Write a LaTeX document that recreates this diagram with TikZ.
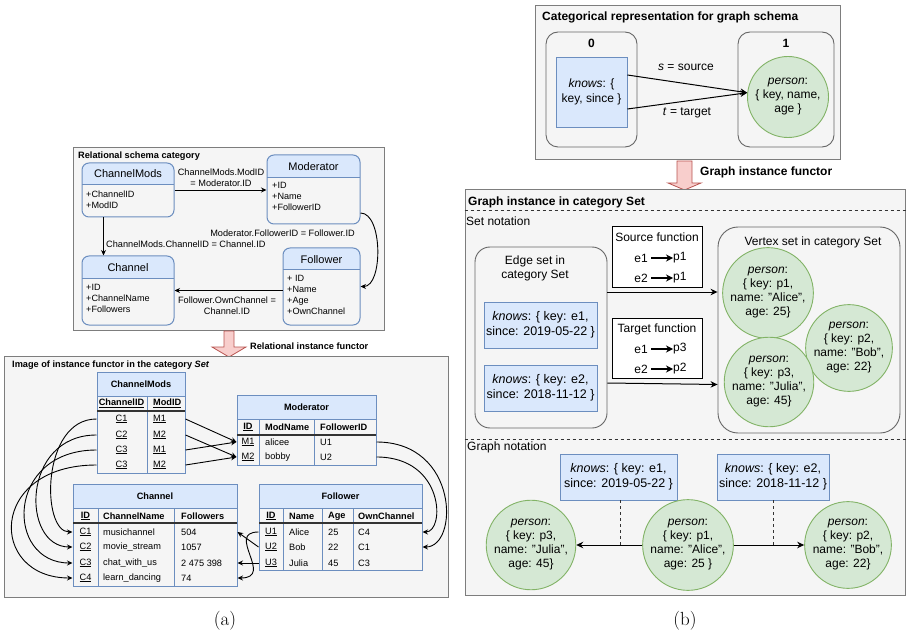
\documentclass[tikz,border=0pt]{standalone}
\usepackage{fontspec}
\setsansfont{Liberation Sans}
\usetikzlibrary{arrows.meta}

\definecolor{bluefill}{HTML}{DAE8FC}
\definecolor{bluedraw}{HTML}{6C8EBF}
\definecolor{greenfill}{HTML}{D5E8D4}
\definecolor{greendraw}{HTML}{82B366}
\definecolor{panelfill}{HTML}{F5F5F5}
\definecolor{paneldraw}{HTML}{666666}
\definecolor{redfill}{HTML}{F8CECC}
\definecolor{reddraw}{HTML}{B85450}

\tikzset{
  sm/.style={inner sep=0pt, align=center, font=\sffamily\fontsize{9.2}{10.8}\selectfont},
  smb/.style={inner sep=0pt, align=center, font=\sffamily\bfseries\fontsize{9.2}{10.8}\selectfont},
  enttitle/.style={inner sep=0pt, font=\sffamily\fontsize{11}{13}\selectfont},
  attrs/.style={inner sep=0pt, anchor=north west, align=left, font=\sffamily\fontsize{9.1}{10.8}\selectfont},
  md/.style={inner sep=0pt, align=center, font=\sffamily\fontsize{12}{14}\selectfont},
  mdb/.style={inner sep=0pt, align=center, font=\sffamily\bfseries\fontsize{12}{14}\selectfont},
  kn/.style={draw=bluedraw, fill=bluefill, line width=0.9pt, inner sep=0pt, align=center,
             font=\sffamily\fontsize{12.5}{14.5}\selectfont},
  pers/.style={circle, draw=greendraw, fill=greenfill, line width=0.9pt, inner sep=0pt, align=center,
               font=\sffamily\fontsize{12}{14}\selectfont},
  panel/.style={draw=paneldraw!85, fill=panelfill, line width=1pt, inner sep=0pt},
  grp/.style={draw=paneldraw, line width=0.9pt, inner sep=0pt},
  fnbox/.style={draw=black, fill=white, line width=1pt, inner sep=0pt},
  entity/.style={draw=bluedraw, line width=1pt, rounded corners=7pt, inner sep=0pt},
  tframe/.style={draw=bluedraw, line width=1pt, inner sep=0pt},
  tline/.style={draw=bluedraw, line width=1pt},
  keyline/.style={draw=black!80, line width=1.4pt},
  arr/.style={draw=black, line width=0.9pt, -{Stealth[length=5.5pt,width=5pt]}},
  bigarr/.style={draw=black, line width=1pt, -{Stealth[length=7pt,width=6.5pt]}},
  maparr/.style={draw=black, line width=1.2pt, -{Stealth[length=7pt,width=7pt]}},
  caption/.style={inner sep=0pt, font=\rmfamily\fontsize{19}{22}\selectfont},
  blockarrow/.style={draw=reddraw, fill=redfill, line width=0.8pt},
  dashsep/.style={draw=black!80, line width=0.8pt, dash pattern=on 3pt off 3pt},
}

\begin{document}
\begin{tikzpicture}[x=1pt, y=-1pt]
\useasboundingbox (0,0) rectangle (907,636);

% ---------------- relational schema category ----------------
\node[panel, minimum width=311pt, minimum height=182pt] (relpanel) at (228.5,239) {};
\node[smb, anchor=west] (reltitle) at (78,156) {Relational schema category};

% ChannelMods entity
\begin{scope}
  \clip[rounded corners=7pt] (82,163) rectangle (174,217);
  \fill[bluefill] (82,163) rectangle (174,185);
\end{scope}
\node[entity, minimum width=92pt, minimum height=54pt] (eCM) at (128,190) {};
\draw[tline] (82,185) -- (174,185);
\node[enttitle] (eCMt) at (128,174) {ChannelMods};
\node[attrs] (eCMa) at (86,191) {+ChannelID\\+ModID};

% Moderator entity
\begin{scope}
  \clip[rounded corners=7pt] (267,155) rectangle (360,224);
  \fill[bluefill] (267,155) rectangle (360,178);
\end{scope}
\node[entity, minimum width=93pt, minimum height=69pt] (eMo) at (313.5,189.5) {};
\draw[tline] (267,178) -- (360,178);
\node[enttitle] (eMot) at (313.5,167) {Moderator};
\node[attrs] (eMoa) at (272,182.5) {+ID\\+Name\\+FollowerID};

% Channel entity
\begin{scope}
  \clip[rounded corners=7pt] (82,256) rectangle (174,325);
  \fill[bluefill] (82,256) rectangle (174,278);
\end{scope}
\node[entity, minimum width=92pt, minimum height=69pt] (eCh) at (128,290.5) {};
\draw[tline] (82,278) -- (174,278);
\node[enttitle] (eCht) at (128,268) {Channel};
\node[attrs] (eCha) at (86,284.5) {+ID\\+ChannelName\\+Followers};

% Follower entity
\begin{scope}
  \clip[rounded corners=7pt] (283,248) rectangle (360,325);
  \fill[bluefill] (283,248) rectangle (360,270);
\end{scope}
\node[entity, minimum width=77pt, minimum height=77pt] (eFo) at (321.5,286.5) {};
\draw[tline] (283,270) -- (360,270);
\node[enttitle] (eFot) at (321.5,260) {Follower};
\node[attrs] (eFoa) at (287,275.5) {+ ID\\+Name\\+Age\\+OwnChannel};

% schema morphisms
\draw[arr] (eCM.east) -- (eCM.east -| eMo.west);
\node[sm] (l1) at (221,178) {ChannelMods.ModID\\= Moderator.ID};
\draw[arr] ([xshift=22pt]eCM.south west) -- ([xshift=22pt]eCh.north west);
\node[sm, anchor=west] (l2) at (106,244) {ChannelMods.ChannelID = Channel.ID};
\draw[arr] ([yshift=-23.5pt]eMo.east) .. controls (383,213) and (383,286.5) .. (eFo.east);
\node[sm] (l3) at (282.5,233) {Moderator.FollowerID = Follower.ID};
\draw[arr] (eFo.west |- eCh.east) -- (eCh.east);
\node[sm] (l4) at (227,306) {Follower.OwnChannel =\\Channel.ID};

% functor arrow (a)
\draw[blockarrow] (224,331) -- (224,347) -- (212,347) -- (229,357) -- (246,347) -- (234,347) -- (234,331) -- cycle;
\node[smb, anchor=west] (relfun) at (250,346) {Relational instance functor};

% ---------------- instance in Set (tables) ----------------
\node[panel, minimum width=444pt, minimum height=241pt] (setpanel) at (226,476.5) {};
\node[smb, anchor=west] (settitle) at (12,365) {Image of instance functor in the category \textit{Set}};

% ChannelMods table
\fill[bluefill] (97,372) rectangle (185,396);
\node[tframe, minimum width=88pt, minimum height=101pt] (tCM) at (141,422.5) {};
\draw[tline] (97,396) -- (185,396);
\draw[tline] (147,396) -- (147,473);
\draw[keyline] (97,411) -- (185,411);
\node[smb] (tCMt) at (141,384) {ChannelMods};
\node[smb] (tCMh1) at (121.5,403) {\underline{ChannelID}};
\node[smb, anchor=west] (tCMh2) at (153,403) {\underline{ModID}};
\node[sm] (cmA1) at (121.5,419) {\underline{C1}};
\node[sm] (cmA2) at (121.5,435) {\underline{C2}};
\node[sm] (cmA3) at (121.5,450) {\underline{C3}};
\node[sm] (cmA4) at (121.5,465) {\underline{C3}};
\node[sm, anchor=west] (cmB1) at (153,419) {\underline{M1}};
\node[sm, anchor=west] (cmB2) at (153,435) {\underline{M2}};
\node[sm, anchor=west] (cmB3) at (153,450) {\underline{M1}};
\node[sm, anchor=west] (cmB4) at (153,465) {\underline{M2}};

% Moderator table
\fill[bluefill] (237,395) rectangle (376,419);
\node[tframe, minimum width=139pt, minimum height=70pt] (tMo) at (306.5,430) {};
\draw[tline] (237,419) -- (376,419);
\draw[tline] (259,419) -- (259,465);
\draw[tline] (314,419) -- (314,465);
\draw[keyline] (237,435) -- (376,435);
\node[smb] (tMot) at (306.5,407) {Moderator};
\node[smb] (tMoh1) at (248,427) {\underline{ID}};
\node[smb, anchor=west] (tMoh2) at (265,427) {ModName};
\node[smb, anchor=west] (tMoh3) at (320,427) {FollowerID};
\node[sm] (moA1) at (248,442) {\underline{M1}};
\node[sm, anchor=west] (moB1) at (265,442) {alicee};
\node[sm, anchor=west] (moC1) at (320,442) {U1};
\node[sm] (moA2) at (248,457) {\underline{M2}};
\node[sm, anchor=west] (moB2) at (265,457) {bobby};
\node[sm, anchor=west] (moC2) at (320,457) {U2};

% Channel table
\fill[bluefill] (73,484) rectangle (237,508);
\node[tframe, minimum width=164pt, minimum height=102pt] (tCh) at (155,535) {};
\draw[tline] (73,508) -- (237,508);
\draw[tline] (98,508) -- (98,586);
\draw[tline] (174,508) -- (174,586);
\draw[keyline] (73,523) -- (237,523);
\node[smb] (tCht) at (155,496) {Channel};
\node[smb] (tChh1) at (85.5,516) {\underline{ID}};
\node[smb, anchor=west] (tChh2) at (103,516) {ChannelName};
\node[smb, anchor=west] (tChh3) at (181,516) {Followers};
\node[sm] (chA1) at (85.5,532) {\underline{C1}};
\node[sm] (chA2) at (85.5,547) {\underline{C2}};
\node[sm] (chA3) at (85.5,563) {\underline{C3}};
\node[sm] (chA4) at (85.5,578) {\underline{C4}};
\node[sm, anchor=west] (chB1) at (103,532) {musichannel};
\node[sm, anchor=west] (chB2) at (103,547) {movie\_stream};
\node[sm, anchor=west] (chB3) at (103,563) {chat\_with\_us};
\node[sm, anchor=west] (chB4) at (103,578) {learn\_dancing};
\node[sm, anchor=west] (chC1) at (181,532) {504};
\node[sm, anchor=west] (chC2) at (181,547) {1057};
\node[sm, anchor=west] (chC3) at (181,563) {2 475 398};
\node[sm, anchor=west] (chC4) at (181,578) {74};

% Follower table
\fill[bluefill] (259,484) rectangle (422,508);
\node[tframe, minimum width=163pt, minimum height=86pt] (tFo) at (340.5,527) {};
\draw[tline] (259,508) -- (422,508);
\draw[tline] (283,508) -- (283,570);
\draw[tline] (322,508) -- (322,570);
\draw[tline] (353,508) -- (353,570);
\draw[keyline] (259,523) -- (422,523);
\node[smb] (tFot) at (340.5,496) {Follower};
\node[smb] (tFoh1) at (271,516) {\underline{ID}};
\node[smb, anchor=west] (tFoh2) at (289,516) {Name};
\node[smb, anchor=west] (tFoh3) at (328,516) {Age};
\node[smb, anchor=west] (tFoh4) at (358,516) {OwnChannel};
\node[sm] (foA1) at (271,532) {\underline{U1}};
\node[sm] (foA2) at (271,547) {\underline{U2}};
\node[sm] (foA3) at (271,563) {\underline{U3}};
\node[sm, anchor=west] (foB1) at (289,532) {Alice};
\node[sm, anchor=west] (foB2) at (289,547) {Bob};
\node[sm, anchor=west] (foB3) at (289,563) {Julia};
\node[sm, anchor=west] (foC1) at (328,532) {25};
\node[sm, anchor=west] (foC2) at (328,547) {22};
\node[sm, anchor=west] (foC3) at (328,563) {45};
\node[sm, anchor=west] (foD1) at (358,532) {C4};
\node[sm, anchor=west] (foD2) at (358,547) {C1};
\node[sm, anchor=west] (foD3) at (358,563) {C3};

% ChannelMods.ChannelID -> Channel.ID
\draw[arr] (tCM.west |- cmA1) .. controls (41,419) and (41,532) .. (tCh.west |- chA1);
\draw[arr] (tCM.west |- cmA2) .. controls (21,435) and (21,547) .. (tCh.west |- chA2);
\draw[arr] (tCM.west |- cmA3) .. controls (5,450) and (5,563) .. (tCh.west |- chA3);
\draw[arr] (tCM.west |- cmA4) .. controls (-12,465) and (-12,578) .. (tCh.west |- chA4);
% ChannelMods.ModID -> Moderator.ID
\draw[arr] (tCM.east |- cmB1) -- (tMo.west |- moA1);
\draw[arr] (tCM.east |- cmB2) -- (tMo.west |- moA2);
\draw[arr] (tCM.east |- cmB3) -- (tMo.west |- moA1);
\draw[arr] (tCM.east |- cmB4) -- (tMo.west |- moA2);
% Moderator.FollowerID -> Follower.ID
\draw[arr] (tMo.east |- moA1) .. controls (459,442) and (459,547) .. (tFo.east |- foA2);
\draw[arr] (tMo.east |- moA2) .. controls (445,457) and (445,532) .. (tFo.east |- foA1);
% Follower.OwnChannel -> Channel.ID
\draw[arr] (tFo.west |- foA1) .. controls (225,532) and (275,578) .. (tCh.east |- chA4);
\draw[arr] (tFo.west |- foA2) -- (tCh.east |- chA1);
\draw[arr] (tFo.west |- foA3) -- (tCh.east |- chA3);

\node[caption] (capa) at (225,621) {(a)};

% ---------------- graph schema ----------------
\node[panel, minimum width=305pt, minimum height=154pt] (gspanel) at (687.5,83) {};
\node[mdb, anchor=west] (gstitle) at (542,17) {Categorical representation for graph schema};
\node[grp, rounded corners=12pt, minimum width=91pt, minimum height=115pt] (obj0) at (591.5,89.5) {};
\node[mdb] (obj0t) at (591.5,43) {0};
\node[kn, font=\sffamily\fontsize{12}{14.5}\selectfont, minimum width=71pt, minimum height=70pt] (kn0) at (591.5,92) {\textit{knows}: \{\\key, since \}};
\node[grp, rounded corners=12pt, minimum width=96pt, minimum height=115pt] (obj1) at (786,89.5) {};
\node[mdb] (obj1t) at (786,43) {1};
\node[pers, minimum size=81pt] (per0) at (788,97) {\textit{person}:\\\{ key, name,\\age \}};
\draw[bigarr] ([yshift=17pt]kn0.east) -- (per0.174);
\draw[bigarr] ([yshift=-17pt]kn0.east) -- (per0.174);
\node[md] (srcl) at (686,67) {\textit{s} = source};
\node[md] (tgtl) at (687,113) {\textit{t} = target};

% functor arrow (b)
\draw[blockarrow] (677,161) -- (677,183) -- (668,183) -- (684.5,190) -- (701,183) -- (692,183) -- (692,161) -- cycle;
\node[mdb, anchor=west] (grfun) at (700,172) {Graph instance functor};

% ---------------- graph instance in Set ----------------
\node[panel, minimum width=440pt, minimum height=405pt] (gipanel) at (685,392.5) {};
\node[mdb, anchor=west] (gititle) at (468,202) {Graph instance in category Set};
\draw[dashsep] (gipanel.west |- 0,210) -- (gipanel.east |- 0,210);
\node[md, anchor=west] (setnot) at (466,221) {Set notation};

% edge set
\node[grp, rounded corners=15pt, minimum width=132pt, minimum height=181pt] (eset) at (541,337.5) {};
\node[md] (esett) at (535,268) {Edge set in\\category Set};
\node[kn, minimum width=113pt, minimum height=46pt] (ke1) at (540.5,325) {\textit{knows}: \{ key: e1,\\since: 2019-05-22 \}};
\node[kn, minimum width=113pt, minimum height=46pt] (ke2) at (540.5,388) {\textit{knows}: \{ key: e2,\\since: 2018-11-12 \}};

% source and target functions
\node[fnbox, minimum width=90pt, minimum height=60pt] (srcfn) at (657,257) {};
\node[md] (srcfnt) at (657,237) {Source function};
\node[md, anchor=east] (sfe1) at (648,258) {e1};
\node[md, anchor=west] (sfp1) at (673,258) {p1};
\node[md, anchor=east] (sfe2) at (648,278) {e2};
\node[md, anchor=west] (sfp2) at (673,278) {p1};
\draw[maparr] ([xshift=3pt]sfe1.east) -- (sfp1.west);
\draw[maparr] ([xshift=3pt]sfe2.east) -- (sfp2.west);

\node[fnbox, minimum width=90pt, minimum height=60pt] (tgtfn) at (657,348) {};
\node[md] (tgtfnt) at (657,329) {Target function};
\node[md, anchor=east] (tfe1) at (648,349) {e1};
\node[md, anchor=west] (tfp1) at (673,349) {p3};
\node[md, anchor=east] (tfe2) at (648,369) {e2};
\node[md, anchor=west] (tfp2) at (673,369) {p2};
\draw[maparr] ([xshift=3pt]tfe1.east) -- (tfp1.west);
\draw[maparr] ([xshift=3pt]tfe2.east) -- (tfp2.west);

% vertex set
\node[grp, rounded corners=20pt, minimum width=182pt, minimum height=206pt] (vset) at (809,330) {};
\node[md] (vsett) at (813,242) {Vertex set in category Set};
\node[pers, minimum size=86pt] (vp1) at (768,293) {\textit{person}:\\\{ key: p1,\\name: "Alice",\\age: 25\}};
\node[pers, minimum size=81pt] (vp2) at (849,348) {\textit{person}:\\\{ key: p2,\\name: "Bob",\\age: 22\}};
\node[pers, minimum size=82pt] (vp3) at (769,382) {\textit{person}:\\\{ key: p3,\\name: "Julia",\\age: 45\}};

\draw[bigarr] ([yshift=45.5pt]eset.east) -- ([yshift=45.5pt]eset.east -| vset.west);
\draw[bigarr] ([yshift=-45.5pt]eset.east) -- ([yshift=-47pt]eset.east -| vset.west);

% graph notation
\draw[dashsep] (gipanel.west |- 0,439) -- (gipanel.east |- 0,439);
\node[md, anchor=west] (grnot) at (467,447) {Graph notation};
\node[kn, minimum width=117pt, minimum height=46pt] (ge1) at (618.5,477) {\textit{knows}: \{ key: e1,\\since: 2019-05-22 \}};
\node[kn, minimum width=112pt, minimum height=46pt] (ge2) at (773,477) {\textit{knows}: \{ key: e2,\\since: 2018-11-12 \}};
\node[pers, minimum size=80pt] (gp3) at (531,545) {\textit{person}:\\\{ key: p3,\\name: "Julia",\\age: 45\}};
\node[pers, minimum size=82pt] (gp1) at (688,545) {\textit{person}:\\\{ key: p1,\\name: "Alice",\\age: 25 \}};
\node[pers, minimum size=80pt] (gp2) at (848,545) {\textit{person}:\\\{ key: p2,\\name: "Bob",\\age: 22\}};
\draw[bigarr] (gp1.west) -- (gp3.east);
\draw[bigarr] (gp1.east) -- (gp2.west);
\draw[dashsep] ([xshift=1.5pt]ge1.south) -- ([xshift=1.5pt]ge1.south |- gp1.west);
\draw[dashsep] (ge2.south) -- (ge2.south |- gp1.east);

\node[caption] (capb) at (685,621) {(b)};
\end{tikzpicture}
\end{document}
